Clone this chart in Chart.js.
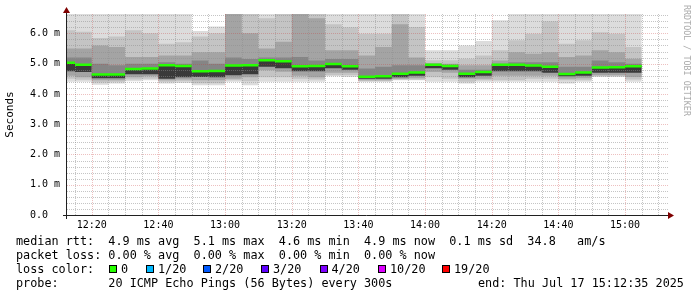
<!DOCTYPE html>
<html><head><meta charset="utf-8">
<script src="https://cdn.jsdelivr.net/npm/chart.js@4/dist/chart.umd.min.js"></script>
<style>
html,body{margin:0;padding:0;background:#fff;}
#wrap{position:relative;width:697px;height:297px;overflow:hidden;background:#fff;}
#c{position:absolute;left:0;top:0;}
.lg{position:absolute;left:16px;font-family:'DejaVu Sans Mono',monospace;font-size:11.8px;line-height:14px;white-space:pre;color:#000;}
.bx{position:absolute;width:6px;height:6px;border:1px solid #000;}
#wm{position:absolute;left:692px;top:5px;font-family:'DejaVu Sans Mono',monospace;font-size:8.4px;line-height:10px;color:#aaaaaa;white-space:pre;transform-origin:0 0;transform:rotate(90deg);}
</style></head><body>
<div id="wrap">
<canvas id="c" width="697" height="297"></canvas>
<div id="wm">RRDTOOL / TOBI OETIKER</div>
<div class="lg" style="top:234px">median rtt:  4.9 ms avg  5.1 ms max  4.6 ms min  4.9 ms now  0.1 ms sd  34.8   am/s</div>
<div class="lg" style="top:248px">packet loss: 0.00 % avg  0.00 % max  0.00 % min  0.00 % now</div>
<div class="lg" style="top:262px">loss color:</div>
<div id="lossRow"></div>
<div class="lg" style="top:276px">probe:       20 ICMP Echo Pings (56 Bytes) every 300s</div>
<div class="lg" style="top:276px;left:478px">end: Thu Jul 17 15:12:35 2025</div>
</div>
<script>
// ---- data ----
const startTime = "12:12:35";
const endTime = "15:12:35";
const periodEnds = ["12:15","12:20","12:25","12:30","12:35","12:40","12:45","12:50","12:55","13:00",
  "13:05","13:10","13:15","13:20","13:25","13:30","13:35","13:40","13:45","13:50",
  "13:55","14:00","14:05","14:10","14:15","14:20","14:25","14:30","14:35","14:40",
  "14:45","14:50","14:55","15:00","15:05"];
const xTickLabels = ["12:20","12:40","13:00","13:20","13:40","14:00","14:20","14:40","15:00"];
const yTickValues = [0,1,2,3,4,5,6];
const yTickLabels = ["0.0  ","1.0 m","2.0 m","3.0 m","4.0 m","5.0 m","6.0 m"];
// median rtt (ms)
const median = [5.03,4.96,4.64,4.64,4.82,4.84,4.95,4.92,4.75,4.76,4.94,4.95,5.11,5.08,4.91,4.92,4.99,4.91,4.57,4.58,
  4.67,4.71,4.96,4.92,4.67,4.72,4.96,4.96,4.94,4.90,4.66,4.71,4.87,4.88,4.91];
// smoke: distribution of the 20 pings per period (ms)
const smokeMax = [7.0,7.0,7.0,7.0,6.9,6.9,6.8,6.8,6.08,6.23,7.5,7.5,7.0,7.0,7.5,7.5,6.9,6.9,6.8,6.8,
  7.5,6.9,5.44,5.44,5.6,5.75,6.43,6.7,6.9,7.0,6.9,6.9,6.9,6.9,6.9];
const p90 = [6.1,6.05,5.85,5.9,6.1,6.0,5.66,5.71,5.9,6.0,7.0,6.8,6.5,6.7,7.2,7.0,6.3,6.2,5.99,5.99,
  7.0,6.21,5.11,5.11,5.16,5.27,5.44,5.77,5.99,6.4,5.66,5.77,6.04,5.99,5.55];
const p75 = [5.5,5.5,5.6,5.55,5.22,5.22,5.27,5.27,5.38,5.38,6.7,6.0,5.5,5.72,6.8,6.5,5.44,5.44,5.27,5.55,
  6.3,5.2,5.02,5.0,4.95,4.95,5.1,5.38,5.33,5.38,5.22,5.27,5.44,5.38,5.16];
const p60 = [5.2,5.2,5.0,4.95,5.0,5.0,5.05,5.0,5.1,5.0,5.2,5.15,5.2,5.2,5.22,5.1,5.15,5.15,4.84,4.9,
  4.95,4.95,4.98,4.96,4.8,4.8,5.0,5.05,5.05,5.05,4.9,4.9,5.1,5.05,5.0];
const p40 = [4.75,4.72,4.52,4.52,4.65,4.65,4.5,4.55,4.56,4.55,4.62,4.65,4.9,4.85,4.75,4.75,4.85,4.8,4.5,4.5,
  4.55,4.6,4.85,4.8,4.55,4.6,4.75,4.75,4.75,4.7,4.58,4.6,4.7,4.7,4.7];
const p25 = [4.6,4.55,4.45,4.45,4.55,4.58,4.45,4.48,4.45,4.45,4.5,4.55,4.78,4.73,4.6,4.55,4.7,4.7,4.45,4.45,
  4.5,4.52,4.72,4.7,4.5,4.5,4.6,4.6,4.6,4.6,4.5,4.52,4.62,4.62,4.56];
const p10 = [4.5,4.47,4.38,4.4,4.48,4.5,4.4,4.42,4.35,4.35,4.45,4.42,4.55,4.55,4.5,4.48,4.62,4.62,4.42,4.42,
  4.47,4.47,4.55,4.5,4.4,4.45,4.45,4.45,4.5,4.5,4.45,4.45,4.58,4.58,4.48];
const smokeMin = [4.4,4.4,4.3,4.34,4.42,4.45,4.34,4.36,4.29,4.29,4.4,4.29,4.4,4.4,4.4,4.4,4.58,4.56,4.4,4.4,
  4.45,4.45,4.4,4.4,4.34,4.4,4.4,4.4,4.4,4.4,4.34,4.4,4.56,4.56,4.4];
const lossLabels = ["0","1/20","2/20","3/20","4/20","10/20","19/20"];
const lossColors = ["#26ff00","#00b8ff","#0059ff","#5e00ff","#7e00ff","#dd00ff","#ff0000"];

// ---- helpers ----
const toSec = s => { const p = s.split(':').map(Number); return p[0]*3600 + p[1]*60 + (p[2]||0); };
const pad = n => String(n).padStart(2,'0');
const fmtTime = v => pad(Math.floor(v/3600)) + ':' + pad(Math.floor((v%3600)/60));
const STEP = 300;
const ends = periodEnds.map(toSec);
const tStart = toSec(startTime), tEnd = toSec(endTime);

const stepPts = vals => {
  const p = ends.map((e,i) => ({x: e - STEP, y: vals[i]}));
  p.push({x: ends[ends.length-1], y: vals[vals.length-1]});
  return p;
};
const medianPts = [];
ends.forEach((e,i) => { medianPts.push({x: e-STEP, y: median[i]}, {x: e, y: median[i]}, {x: e, y: null}); });

const band = (vals, fillTo, color) => ({
  data: stepPts(vals), stepped: true, pointRadius: 0, borderWidth: 0, borderColor: 'transparent',
  backgroundColor: color, fill: fillTo === null ? false : fillTo, clip: 0
});

// legend boxes
const lossX = [109,146,203,261,319.5,378,442];
const row = document.getElementById('lossRow');
lossLabels.forEach((l,i) => {
  const b = document.createElement('div'); b.className='bx';
  b.style.left = lossX[i]+'px'; b.style.top = '265px'; b.style.background = lossColors[i];
  row.appendChild(b);
  const t = document.createElement('div'); t.className='lg'; t.textContent = l;
  t.style.left = (lossX[i]+12)+'px'; t.style.top = '262px';
  row.appendChild(t);
});

const GRID = 'rgba(140,140,140,0.5)';
const MGRID = 'rgba(200,60,60,0.32)';

const rrdPlugin = {
  id: 'rrd',
  afterDatasetDraw(chart, args) {
    if (args.index !== 1) return;
    const {ctx, chartArea: a, scales: {x, y}} = chart;
    ctx.save();
    ctx.lineWidth = 1; ctx.setLineDash([1,1]);
    for (let t = Math.ceil(tStart/STEP)*STEP; t <= tEnd; t += STEP) {
      const px = Math.round(x.getPixelForValue(t)) + 0.5;
      ctx.strokeStyle = (t % 1200 === 0) ? MGRID : GRID;
      ctx.beginPath(); ctx.moveTo(px, a.top); ctx.lineTo(px, a.bottom); ctx.stroke();
    }
    for (let k = 1; k <= 33; k++) {
      const py = Math.round(y.getPixelForValue(k/5)) + 0.5;
      ctx.strokeStyle = (k % 5 === 0) ? MGRID : GRID;
      ctx.beginPath(); ctx.moveTo(a.left, py); ctx.lineTo(a.right + 2, py); ctx.stroke();
    }
    ctx.restore();
  },
  afterDraw(chart) {
    const {ctx, chartArea: a} = chart;
    ctx.save();
    ctx.setLineDash([]); ctx.lineWidth = 1; ctx.strokeStyle = '#202020';
    const yb = Math.round(a.bottom) + 0.5, xl = Math.round(a.left) - 0.5;
    ctx.beginPath(); ctx.moveTo(a.left - 4, yb); ctx.lineTo(a.right + 3, yb); ctx.stroke();
    ctx.beginPath(); ctx.moveTo(xl, a.bottom + 4); ctx.lineTo(xl, a.top - 2); ctx.stroke();
    ctx.fillStyle = '#7f0000';
    ctx.beginPath(); ctx.moveTo(xl, a.top - 7); ctx.lineTo(xl - 3.5, a.top - 1); ctx.lineTo(xl + 3.5, a.top - 1); ctx.closePath(); ctx.fill();
    ctx.beginPath(); ctx.moveTo(a.right + 7, yb); ctx.lineTo(a.right + 1, yb - 3.5); ctx.lineTo(a.right + 1, yb + 3.5); ctx.closePath(); ctx.fill();
    ctx.restore();
  }
};

Chart.defaults.font.family = "'DejaVu Sans Mono', monospace";
new Chart(document.getElementById('c'), {
  type: 'line',
  data: {
    datasets: [
      {data: medianPts, borderColor: '#26ff00', borderWidth: 2.5, pointRadius: 0, fill: false, spanGaps: false, clip: 0},
      band(p60, 2, '#858585'),
      band(median, 3, '#3a3a3a'),
      band(p40, null, 'transparent'),
      band(p75, 5, '#a4a4a4'),
      band(p25, null, 'transparent'),
      band(p90, 7, '#c4c4c4'),
      band(p10, null, 'transparent'),
      band(smokeMax, 9, '#dcdcdc'),
      band(smokeMin, null, 'transparent')
    ]
  },
  options: {
    responsive: false, animation: false, events: [],
    layout: {padding: {left: 0, top: 14, right: 30, bottom: 0}},
    plugins: {legend: {display: false}, tooltip: {enabled: false}},
    scales: {
      x: {
        type: 'linear', min: tStart, max: tEnd,
        afterBuildTicks: s => { s.ticks = xTickLabels.map(l => ({value: toSec(l)})); },
        ticks: {callback: v => fmtTime(v), font: {size: 10}, color: '#000', padding: 4, maxRotation: 0, autoSkip: false},
        grid: {display: false, drawTicks: false}, border: {display: false},
        afterFit: s => { s.height = 82; }
      },
      y: {
        type: 'linear', min: 0, max: 6.64,
        afterBuildTicks: s => { s.ticks = yTickValues.map(v => ({value: v})); },
        ticks: {callback: v => yTickLabels[yTickValues.indexOf(v)], font: {size: 10}, color: '#000', padding: 7, autoSkip: false},
        grid: {display: false, drawTicks: false}, border: {display: false},
        title: {display: true, text: 'Seconds', font: {size: 11}, color: '#000', padding: {top: 4, bottom: 0}},
        afterFit: s => { s.width = 67; }
      }
    }
  },
  plugins: [rrdPlugin]
});
</script>
</body></html>
